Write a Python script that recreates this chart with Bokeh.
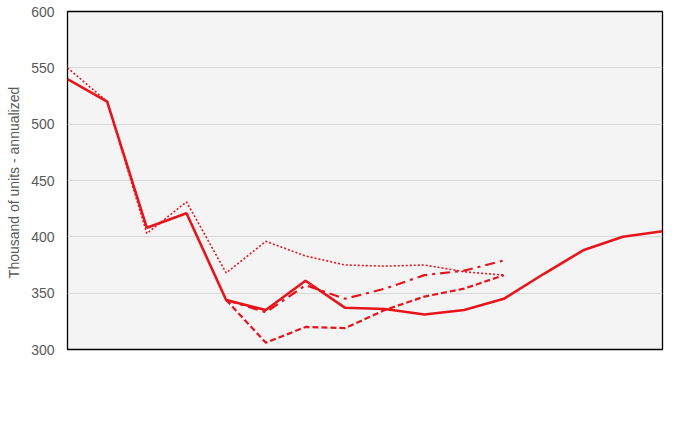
import math
from bokeh.plotting import figure
from bokeh.models import Range1d, Legend, LegendItem, FixedTicker
from bokeh.embed import file_html
from bokeh.resources import INLINE

categories = ["1Q23", "2Q23", "3Q23", "4Q23", "1Q24", "2Q24", "3Q24", "4Q24",
              "1Q25", "2Q25", "3Q25", "4Q25", "1Q26", "2Q26", "3Q26", "4Q26"]
nan = float("nan")
mar24 = [550, 520, 403, 431, 368, 396, 383, 375, 374, 375, 369, 366, nan, nan, nan, nan]
jun24 = [nan, nan, nan, nan, 344, 306, 320, 319, 335, 347, 354, 366, nan, nan, nan, nan]
sep24 = [nan, nan, nan, nan, 344, 333, 357, 345, 354, 366, 370, 379, nan, nan, nan, nan]
dec24 = [540, 520, 408, 421, 344, 335, 361, 337, 336, 331, 335, 345, 367, 388, 400, 405]
y_ticks = [300, 350, 400, 450, 500, 550, 600]

RED = "#e8141c"
GRAY = "#595959"
FONT = "Liberation Sans"

x = list(range(len(categories)))

p = figure(frame_width=595, frame_height=338, output_backend="svg", toolbar_location=None,
           x_range=Range1d(0, len(categories) - 1), y_range=Range1d(300, 600),
           min_border_left=67, min_border_top=11, min_border_right=34, min_border_bottom=0)
p.background_fill_color = "#f4f4f4"
p.border_fill_color = "white"
p.outline_line_color = "black"
p.outline_line_width = 1.3
p.outline_line_alpha = 1

r_mar = p.line(x, mar24, line_color=RED, line_width=1.6, line_dash="2 2")
r_jun = p.line(x, jun24, line_color=RED, line_width=2.2, line_dash="6 3")
r_sep = p.line(x, sep24, line_color=RED, line_width=2.2, line_dash="10 5 3 5")
r_dec = p.line(x, dec24, line_color=RED, line_width=2.6)

p.xaxis.ticker = FixedTicker(ticks=x)
p.xaxis.major_label_overrides = {i: c for i, c in enumerate(categories)}
p.xaxis.major_label_orientation = math.pi / 2
p.xaxis.major_tick_out = 6
p.xaxis.major_tick_in = 0
p.xaxis.minor_tick_line_color = None
p.xaxis.axis_line_color = "black"
p.xaxis.major_tick_line_color = "black"
p.xaxis.major_label_standoff = 2
p.xaxis.axis_label = None
p.xaxis.axis_label_standoff = 0
p.xaxis.fixed_location = 300

p.yaxis.ticker = FixedTicker(ticks=y_ticks)
p.yaxis.major_tick_out = 0
p.yaxis.major_tick_in = 0
p.yaxis.minor_tick_line_color = None
p.yaxis.axis_line_color = None
p.yaxis.major_label_standoff = 13
p.yaxis.axis_label = "Thousand  of units - annualized"
p.yaxis.axis_label_text_font_style = "normal"
p.yaxis.axis_label_text_font_size = "14px"
p.yaxis.axis_label_text_color = GRAY
p.yaxis.axis_label_text_font = FONT
p.yaxis.axis_label_standoff = 6

for ax in (p.xaxis, p.yaxis):
    ax.major_label_text_font = FONT
    ax.major_label_text_font_size = "14px"
    ax.major_label_text_color = GRAY

p.xgrid.grid_line_color = None
p.ygrid.ticker = FixedTicker(ticks=y_ticks)
p.ygrid.grid_line_color = "#d9d9d9"
p.ygrid.grid_line_width = 1

legend = Legend(items=[LegendItem(label="Mar 24", renderers=[r_mar]),
                       LegendItem(label="Jun 24", renderers=[r_jun]),
                       LegendItem(label="Sep 24", renderers=[r_sep]),
                       LegendItem(label="Dec 24", renderers=[r_dec])],
                orientation="horizontal", location="left")
legend.label_text_font = FONT
legend.label_text_font_size = "14px"
legend.label_text_color = GRAY
legend.glyph_width = 35
legend.glyph_height = 18
legend.label_height = 18
legend.label_standoff = 4
legend.spacing = 32
legend.padding = 2
legend.margin = 49
legend.border_line_color = None
legend.background_fill_alpha = 0
p.add_layout(legend, "below")

open("out.html", "w").write(file_html(p, INLINE))
